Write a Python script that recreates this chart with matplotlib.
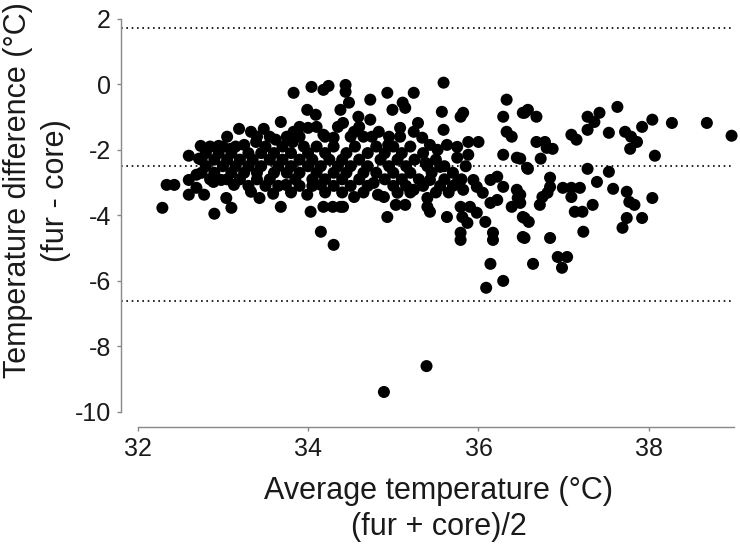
import numpy as np
import matplotlib.pyplot as plt

plt.rcParams['font.family'] = ['Liberation Sans', 'DejaVu Sans']
plt.rcParams['axes.unicode_minus'] = False

# limits of agreement (Bland-Altman)
upper_loa = 1.72
mean_diff = -2.5
lower_loa = -6.6

# sparse / outlying points
avg_sparse = [
    33.83, 34.04, 34.18, 34.24, 33.99, 34.09, 33.68, 33.19, 33.33, 33.48, 33.83, 34.00, 34.18,
    32.74, 32.95, 33.09, 33.25, 33.39, 33.62, 33.82, 32.60, 32.72, 32.34, 32.43, 32.60, 32.69,
    32.60, 32.69, 32.78, 32.89, 32.98, 33.13, 33.04, 33.10, 32.29, 32.90, 33.33, 33.43, 33.59,
    33.68, 33.74, 33.99, 34.03, 34.15, 34.30, 34.18, 34.29, 34.38, 34.15,
    35.59, 34.44, 34.44, 34.73, 34.93, 35.24, 34.48, 34.38, 34.99, 35.11, 35.14, 35.57, 35.82,
    35.79, 36.33, 36.52, 36.29, 34.59, 34.73, 34.41, 35.29, 35.59, 35.24, 35.08, 34.83, 34.54,
    34.30, 34.65, 35.08, 35.34, 36.33, 36.39, 35.43, 35.63, 35.75, 35.88, 36.00, 35.52, 34.94,
    35.88, 36.29, 36.45, 36.57, 35.75, 35.38, 35.55, 34.82, 34.89, 35.03, 35.14, 35.40, 35.43,
    35.40, 35.63, 35.79, 35.81, 35.90, 35.98, 35.87, 36.08, 35.79, 36.17, 36.52, 36.14, 36.22,
    36.29, 36.45, 36.46, 36.39, 36.14, 36.22, 35.94, 35.98, 35.82, 36.05, 34.41, 34.93, 34.77,
    34.54, 35.05, 35.24, 35.43, 35.75, 36.52,
    37.63, 36.58, 36.54, 36.68, 37.28, 37.42, 37.36, 37.28, 37.53, 37.09, 37.15, 37.72, 37.79,
    37.86, 37.78, 37.92, 38.04, 38.27, 38.68, 38.97, 38.07, 36.68, 36.78, 36.80, 36.87, 36.73,
    36.49, 36.58, 37.28, 37.53, 37.39, 36.84, 36.84, 36.81, 36.75, 36.99, 37.09, 37.19, 37.09,
    37.58, 37.74, 37.77, 37.83, 38.04, 36.72, 37.13, 37.22, 37.34, 36.49, 36.49, 36.54, 36.59,
    37.74, 37.69, 37.92, 37.23, 36.54, 36.84,
    35.79, 36.17, 36.14, 36.64, 36.93, 37.04, 36.98, 36.09, 36.29, 35.39, 34.89,
]
diff_sparse = [
    -0.26, -0.08, -0.17, -0.05, -0.78, -0.93, -1.15, -1.36, -1.45, -1.36, -1.45, -1.33, -1.54,
    -1.88, -1.88, -1.97, -1.85, -1.76, -1.69, -1.76, -2.18, -2.27, -3.07, -3.07, -2.92, -2.76,
    -3.37, -3.16, -3.37, -2.98, -2.92, -3.07, -3.47, -3.77, -3.77, -3.95, -3.28, -3.47, -3.34,
    -3.74, -3.07, -3.37, -3.89, -4.50, -4.90, -3.74, -3.74, -3.74, -3.07,
    0.05, -0.02, -0.23, -0.47, -0.26, -0.26, -0.56, -0.78, -0.78, -0.56, -0.72, -0.84, -0.87,
    -0.99, -0.47, -0.87, -0.99, -0.99, -1.08, -1.18, -1.18, -1.39, -1.45, -1.33, -1.45, -1.45,
    -1.63, -1.60, -1.60, -1.63, -1.45, -1.60, -1.85, -1.85, -1.91, -1.76, -1.76, -2.00, -1.85,
    -2.15, -2.15, -2.24, -2.55, -2.24, -2.40, -2.52, -3.37, -3.44, -3.68, -3.68, -3.74, -3.89,
    -3.47, -4.05, -3.74, -4.05, -3.74, -3.92, -4.23, -4.20, -4.53, -4.53, -4.66, -3.62, -3.53,
    -3.13, -3.22, -3.47, -3.74, -2.92, -2.82, -2.92, -3.13, -3.22, -3.31, -3.74, -4.05, -3.01,
    -3.44, -3.31, -3.22, -2.92, -3.01, -4.05,
    -0.69, -0.78, -0.87, -0.99, -0.99, -0.87, -1.15, -1.39, -1.48, -1.54, -1.69, -1.45, -1.60,
    -1.76, -1.97, -1.30, -1.08, -1.18, -1.18, -1.57, -2.18, -1.76, -1.76, -1.94, -1.97, -2.27,
    -2.27, -2.58, -2.58, -2.67, -2.98, -2.85, -3.13, -3.31, -3.44, -3.16, -3.16, -3.16, -3.44,
    -3.19, -3.28, -3.59, -3.68, -3.47, -3.68, -3.89, -3.89, -3.68, -3.37, -3.62, -4.08, -4.20,
    -4.08, -4.38, -4.08, -4.50, -4.69, -4.69,
    -4.75, -4.75, -5.48, -5.48, -5.27, -5.27, -5.60, -6.21, -6.00, -8.60, -9.39,
]

# dense core of the cloud, read row by row
core_rows = {
    -1.3: [33.9, 34.1, 34.35, 34.6],
    -1.6: [33.05, 33.4, 33.55, 33.75, 33.9, 34.2, 34.5, 34.75, 34.95],
    -1.9: [32.85, 33.0, 33.15, 33.5, 33.7, 33.95, 34.1, 34.3, 34.55, 34.8, 35.0, 35.2],
    -2.1: [32.8, 32.95, 33.1, 33.3, 33.45, 33.6, 33.8, 34.0, 34.2, 34.45, 34.7, 34.9, 35.1, 35.35],
    -2.3: [32.75, 32.9, 33.05, 33.2, 33.35, 33.55, 33.7, 33.9, 34.05, 34.25, 34.4, 34.6, 34.85,
           35.05, 35.25, 35.5],
    -2.5: [32.8, 33.0, 33.15, 33.3, 33.45, 33.65, 33.8, 34.0, 34.15, 34.35, 34.5, 34.7, 34.95,
           35.15, 35.4, 35.6, 35.85],
    -2.7: [32.75, 32.9, 33.1, 33.25, 33.4, 33.6, 33.75, 33.9, 34.1, 34.3, 34.45, 34.65, 34.8,
           35.0, 35.2, 35.45, 35.7],
    -2.9: [32.85, 33.05, 33.2, 33.4, 33.55, 33.85, 34.05, 34.2, 34.4, 34.6, 34.9, 35.1, 35.3,
           35.6, 35.8],
    -3.1: [33.3, 33.5, 33.65, 33.9, 34.05, 34.3, 34.5, 34.7, 35.0, 35.15, 35.35, 35.55, 35.7],
    -3.3: [33.8, 34.2, 34.4, 34.65, 35.2, 35.5, 35.65],
}

avg_core = [x for row in core_rows.values() for x in row]
diff_core = [y for y, row in core_rows.items() for x in row]

avg = np.array(avg_sparse + avg_core)
diff = np.array(diff_sparse + diff_core)

fig = plt.figure(figsize=(7.4, 5.44), dpi=100)
ax = fig.add_axes([0.163, 0.215, 0.859, 0.871])

ax.scatter(avg, diff, s=75, color='black', edgecolors='none', zorder=3)
for yv in (upper_loa, mean_diff, lower_loa):
    ax.hlines(yv, 31.8, 39.0, colors='black', linestyles=(0, (1, 2.2)), linewidth=1.2)

ax.set_xlim(31.8, 39.26)
ax.set_ylim(-10.46, 4.0)
ax.set_xticks([32, 34, 36, 38])
ax.set_yticks([-10, -8, -6, -4, -2, 0, 2])

for side in ('top', 'right'):
    ax.spines[side].set_visible(False)
ax.spines['left'].set_bounds(-10, 2)
ax.spines['bottom'].set_bounds(32, 39)
for side in ('left', 'bottom'):
    ax.spines[side].set_color('#888888')
    ax.spines[side].set_linewidth(1.0)
ax.tick_params(direction='out', length=3, width=1.0, color='#888888',
               labelsize=18, labelcolor='#1a1a1a', pad=4)

ax.set_xlabel('Average temperature (°C)\n(fur + core)/2', fontsize=22,
              color='#1a1a1a', labelpad=11, linespacing=1.25)
ax.set_ylabel('Temperature difference (°C)\n(fur - core)', fontsize=22,
              color='#1a1a1a', linespacing=1.35)
ax.yaxis.set_label_coords(-0.078, 0.5)

fig.savefig('out.png', dpi=100)
